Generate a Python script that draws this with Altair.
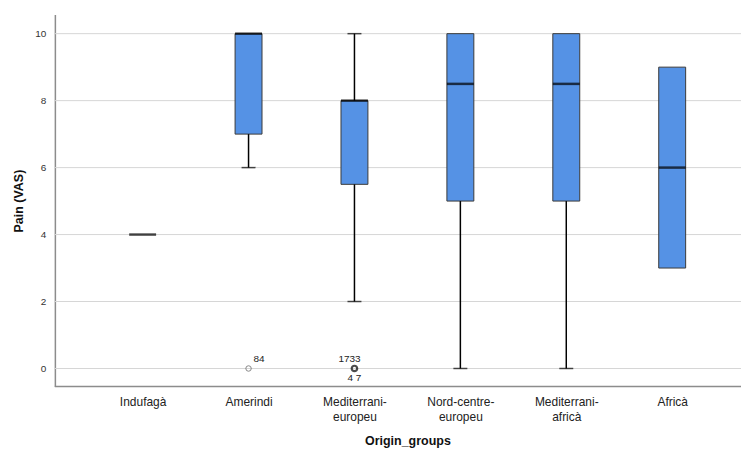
import altair as alt
import pandas as pd

# ---- data ----
groups = ["Indufagà", "Amerindi", "Mediterrani-europeu", "Nord-centre-europeu",
          "Mediterrani-africà", "Africà"]
q1 = [4, 7, 5.5, 5, 5, 3]
median = [4, 10, 8, 8.5, 8.5, 6]
q3 = [4, 10, 8, 10, 10, 9]
whisker_low = [4, 6, 2, 0, 0, 3]
whisker_high = [4, 10, 10, 10, 10, 9]

outlier_groups = ["Amerindi", "Mediterrani-europeu"]
outlier_values = [0, 0]
outlier_cases = [1, 4]
outlier_label_above = ["84", "1733"]
outlier_label_below = ["", "4 7"]

y_ticks = [0, 2, 4, 6, 8, 10]

box = pd.DataFrame({"group": groups, "q1": q1, "median": median, "q3": q3,
                    "wlo": whisker_low, "whi": whisker_high})
out = pd.DataFrame({"group": outlier_groups, "value": outlier_values,
                    "n": outlier_cases, "above": outlier_label_above,
                    "below": outlier_label_below})
grid = pd.DataFrame({"tick": y_ticks})

W, H = 688, 373
FONT = "Liberation Sans"
label_expr = ("indexof(datum.label,'-')<0 ? datum.label : "
              "[substring(datum.label,0,lastindexof(datum.label,'-')+1),"
              " substring(datum.label,lastindexof(datum.label,'-')+1)]")

x_axis = alt.Axis(title="Origin_groups", labelExpr=label_expr,
                  labelAngle=0, ticks=False, labelPadding=10,
                  titlePadding=12, labelFontSize=12,
                  labelColor="#222222", titleFontSize=12.5,
                  titleFontWeight="bold", titleColor="#111111",
                  labelFont=FONT, titleFont=FONT, grid=False,
                  domain=False, labelLineHeight=15)
x_scale = alt.Scale(type="point", range=[88, 619], padding=0)
y_axis = alt.Axis(title="Pain (VAS)", values=y_ticks,
                  ticks=False, labelPadding=9, titlePadding=9,
                  labelFontSize=10, labelColor="#333333",
                  titleFontSize=12.5, titleFontWeight="bold",
                  titleColor="#111111", labelFont=FONT, titleFont=FONT,
                  grid=False, domainColor="#8c8c8c", domainWidth=1.5)
y_scale = alt.Scale(domain=[-0.54, 10.57], nice=False, zero=False)


def X():
    return alt.X("group:N", sort=groups, scale=x_scale, axis=x_axis,
                 title="Origin_groups")


def Y(field):
    return alt.Y(field, scale=y_scale, axis=y_axis, title="Pain (VAS)")


gridlines = alt.Chart(grid).mark_rule(color="#d6d6d6", strokeWidth=1).encode(
    y=Y("tick:Q"), x=alt.value(0), x2=alt.value(W)
)
x_domain = alt.Chart(grid).mark_rule(color="#8c8c8c", strokeWidth=1.5).encode(
    y=alt.value(H), x=alt.value(0), x2=alt.value(W)
).transform_filter("datum.tick == 0")

base = alt.Chart(box)

boxes = base.mark_bar(size=27, color="#5592E5", stroke="#3a3a3a",
                      strokeWidth=1).encode(
    x=X(), y=Y("q1:Q"), y2="q3:Q",
).transform_filter("datum.q3 > datum.q1")

low_whisk = base.mark_rule(color="black", strokeWidth=1.5).encode(
    x=X(), y=Y("wlo:Q"), y2="q1:Q"
).transform_filter("datum.wlo < datum.q1")

high_whisk = base.mark_rule(color="black", strokeWidth=1.5).encode(
    x=X(), y=Y("q3:Q"), y2="whi:Q"
).transform_filter("datum.whi > datum.q3")

low_cap = base.mark_tick(color="black", size=14, thickness=1.5).encode(
    x=X(), y=Y("wlo:Q")
).transform_filter("datum.wlo < datum.q1")

high_cap = base.mark_tick(color="black", size=14, thickness=1.5).encode(
    x=X(), y=Y("whi:Q")
).transform_filter("datum.whi > datum.q3")

med = base.mark_tick(color="black", size=27, thickness=2.5).encode(
    x=X(), y=Y("median:Q")
)

obase = alt.Chart(out)
pts_single = obase.mark_point(shape="circle", filled=False, size=30,
                              color="#555555", strokeWidth=1).encode(
    x=X(), y=Y("value:Q")
).transform_filter("datum.n == 1")
pts_multi = obase.mark_point(shape="circle", filled=False, size=30,
                             color="black", strokeWidth=2.2).encode(
    x=X(), y=Y("value:Q")
).transform_filter("datum.n > 1")

lbl_single = obase.mark_text(align="left", dx=5, dy=-10, fontSize=10,
                             font=FONT, color="#222222").encode(
    x=X(), y=Y("value:Q"), text="above:N"
).transform_filter("datum.n == 1")
lbl_multi_above = obase.mark_text(align="center", dx=-5, dy=-10, fontSize=10,
                                  font=FONT, color="#222222").encode(
    x=X(), y=Y("value:Q"), text="above:N"
).transform_filter("datum.n > 1")
lbl_multi_below = obase.mark_text(align="center", dx=0, dy=10, fontSize=10,
                                  font=FONT, color="#222222").encode(
    x=X(), y=Y("value:Q"), text="below:N"
).transform_filter("datum.n > 1")

chart = alt.layer(
    gridlines, x_domain, boxes, low_whisk, high_whisk, low_cap, high_cap, med,
    pts_single, pts_multi, lbl_single, lbl_multi_above, lbl_multi_below
).properties(
    width=W, height=H, background="white",
    padding={"left": 4, "top": 6, "right": 0, "bottom": 0},
).configure_view(strokeWidth=0, stroke="transparent")

chart.save("out.html", embed_options={"renderer": "svg", "actions": False})
